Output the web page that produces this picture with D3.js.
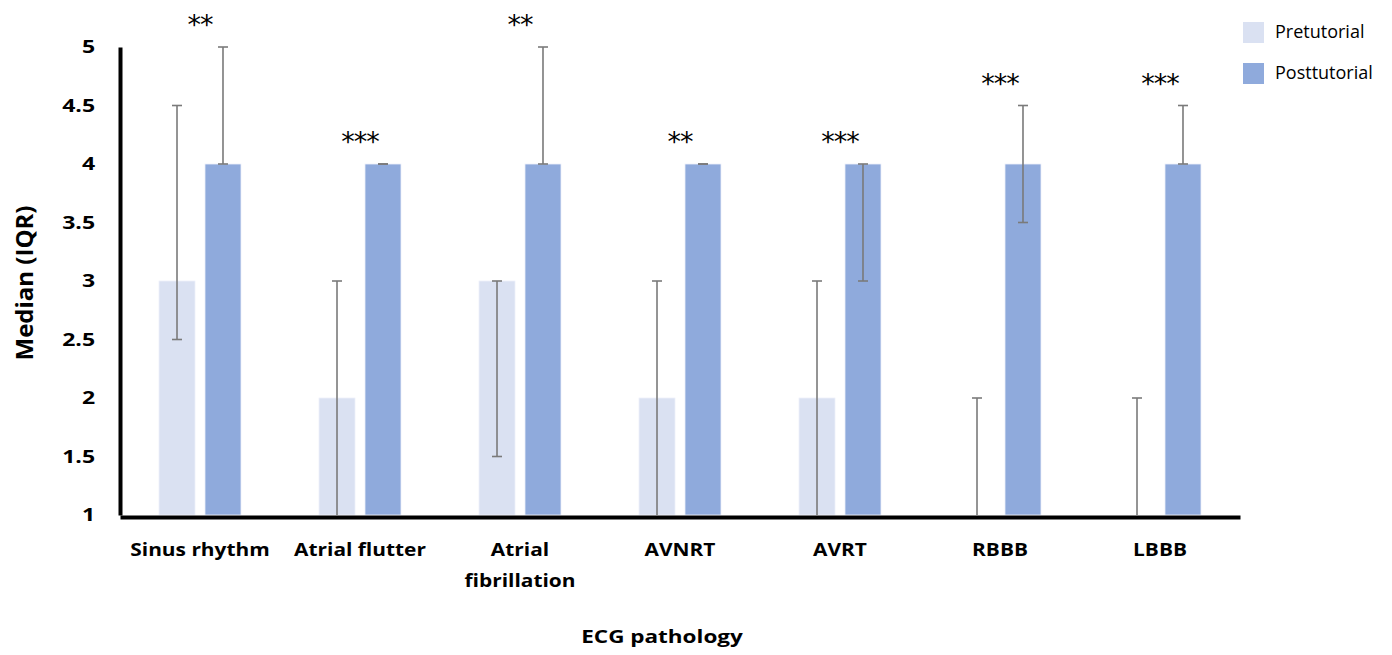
<!DOCTYPE html>
<html>
<head>
<meta charset="utf-8">
<script src="https://cdn.jsdelivr.net/npm/d3@7"></script>
<style>
  body { margin: 0; background: #fff; }
  svg { display: block; font-family: "Open Sans", Lato, sans-serif; }
</style>
</head>
<body>
<svg id="chart"></svg>
<script>
// categories and values
const categories = ['Sinus rhythm', 'Atrial flutter', 'Atrial fibrillation', 'AVNRT', 'AVRT', 'RBBB', 'LBBB'];
const seriesNames = ['Pretutorial', 'Posttutorial'];
const preMedian = [3, 2, 3, 2, 2, 1, 1];
const preLow    = [2.5, 1, 1.5, 1, 1, 1, 1];
const preHigh   = [4.5, 3, 3, 3, 3, 2, 2];
const postMedian = [4, 4, 4, 4, 4, 4, 4];
const postLow    = [4, 4, 4, 4, 3, 3.5, 4];
const postHigh   = [5, 4, 5, 4, 4, 4.5, 4.5];
const significance = ['**', '***', '**', '**', '***', '***', '***'];
const yTicks = [1, 1.5, 2, 2.5, 3, 3.5, 4, 4.5, 5];

const colors = { Pretutorial: '#dae1f2', Posttutorial: '#8faadc' };

function createGroupedBarChart() {
    const width = 1392;
    const height = 655;

    const svg = d3.select('#chart')
                  .attr('width', width)
                  .attr('height', height);

    const x0 = d3.scaleBand()
                 .domain(categories)
                 .range([120, 1240]);

    const x1 = d3.scaleBand()
                 .domain(seriesNames)
                 .range([39, 121])
                 .paddingInner(0.217);

    const yScale = d3.scaleLinear()
                     .domain([1, 5])
                     .range([515, 47]);

    const rows = categories.map((c, i) => ({
        cat: c,
        sig: significance[i],
        values: [
            { key: 'Pretutorial', median: preMedian[i], low: preLow[i], high: preHigh[i] },
            { key: 'Posttutorial', median: postMedian[i], low: postLow[i], high: postHigh[i] }
        ]
    }));

    const groups = svg.selectAll('g.group')
                      .data(rows)
                      .enter()
                      .append('g')
                      .attr('class', 'group')
                      .attr('transform', d => `translate(${x0(d.cat)},0)`);

    // bars
    groups.selectAll('rect')
          .data(d => d.values)
          .enter()
          .append('rect')
          .attr('x', d => x1(d.key))
          .attr('y', d => yScale(d.median))
          .attr('width', x1.bandwidth())
          .attr('height', d => yScale(1) - yScale(d.median))
          .attr('fill', d => colors[d.key])
          .attr('stroke', '#eef1fa')
          .attr('stroke-width', 0.8);

    // error bars (IQR)
    const cap = 5;
    const err = groups.selectAll('g.err')
                      .data(d => d.values)
                      .enter()
                      .append('g')
                      .attr('class', 'err')
                      .attr('stroke', '#7a7a7a')
                      .attr('stroke-width', 1.6);

    err.append('line')
       .attr('x1', d => x1(d.key) + x1.bandwidth() / 2)
       .attr('x2', d => x1(d.key) + x1.bandwidth() / 2)
       .attr('y1', d => yScale(d.low))
       .attr('y2', d => yScale(d.high));

    err.append('line')
       .attr('x1', d => x1(d.key) + x1.bandwidth() / 2 - cap)
       .attr('x2', d => x1(d.key) + x1.bandwidth() / 2 + cap)
       .attr('y1', d => yScale(d.high))
       .attr('y2', d => yScale(d.high));

    err.filter(d => d.low > 1)
       .append('line')
       .attr('x1', d => x1(d.key) + x1.bandwidth() / 2 - cap)
       .attr('x2', d => x1(d.key) + x1.bandwidth() / 2 + cap)
       .attr('y1', d => yScale(d.low))
       .attr('y2', d => yScale(d.low));

    // significance stars
    groups.append('text')
          .attr('x', x0.bandwidth() / 2)
          .attr('y', d => yScale(d3.max(d.values, v => v.high)) - 13)
          .attr('text-anchor', 'middle')
          .style('font-family', '"DejaVu Sans", sans-serif')
          .style('font-size', '27px')
          .style('letter-spacing', '-1px')
          .style('fill', '#000')
          .text(d => d.sig);

    // Y axis (labels are drawn a little wide, like the original)
    const yAxis = svg.append('g')
       .attr('transform', 'translate(120,0)')
       .call(d3.axisLeft(yScale)
           .tickValues(yTicks)
           .tickSize(0)
           .tickSizeOuter(0)
           .tickPadding(19.5)
           .tickFormat(d => d));
    yAxis.select('.domain').attr('stroke', '#000').attr('stroke-width', 4);
    yAxis.selectAll('text')
         .attr('transform', 'scale(1.28,1)')
         .style('font-family', '"Open Sans", sans-serif')
         .style('font-weight', 'bold')
         .style('font-size', '18px')
         .style('fill', '#000');

    // X axis
    const xAxis = svg.append('g')
       .attr('transform', 'translate(0,517)')
       .call(d3.axisBottom(x0).tickSize(0).tickSizeOuter(0).tickPadding(26));
    xAxis.select('.domain').attr('stroke', '#000').attr('stroke-width', 4);
    xAxis.selectAll('text')
         .attr('transform', 'scale(1.16,1)')
         .style('font-family', '"Open Sans", sans-serif')
         .style('font-weight', 'bold')
         .style('font-size', '18px')
         .style('fill', '#000')
         .call(wrap, 140);

    // axis titles
    svg.append('text')
       .attr('transform', 'rotate(-90)')
       .attr('x', -283)
       .attr('y', 33)
       .attr('text-anchor', 'middle')
       .style('font-weight', 'bold')
       .style('font-size', '24px')
       .text('Median (IQR)');

    svg.append('text')
       .attr('transform', 'translate(662,643) scale(1.25,1)')
       .attr('text-anchor', 'middle')
       .style('font-weight', 'bold')
       .style('font-size', '18px')
       .text('ECG pathology');

    // legend
    const legend = svg.selectAll('g.legend')
                      .data(seriesNames)
                      .enter()
                      .append('g')
                      .attr('class', 'legend')
                      .attr('transform', (d, i) => `translate(1243,${22 + i * 41})`);

    legend.append('rect')
          .attr('width', 21)
          .attr('height', 21)
          .attr('fill', d => colors[d]);

    legend.append('text')
          .attr('x', 32)
          .attr('y', 10)
          .attr('dy', '0.35em')
          .style('font-size', '18px')
          .style('fill', '#000')
          .text(d => d);
}

// wrap long tick labels onto two lines
function wrap(texts, maxWidth) {
    texts.each(function() {
        const text = d3.select(this);
        const words = text.text().split(' ');
        const y = text.attr('y');
        const dy = parseFloat(text.attr('dy'));
        text.text(null);
        let line = [];
        let lineNo = 0;
        let tspan = text.append('tspan').attr('x', 0).attr('y', y).attr('dy', dy + 'em');
        words.forEach(w => {
            line.push(w);
            tspan.text(line.join(' '));
            if (tspan.node().getComputedTextLength() > maxWidth && line.length > 1) {
                line.pop();
                tspan.text(line.join(' '));
                line = [w];
                lineNo++;
                tspan = text.append('tspan')
                            .attr('x', 0)
                            .attr('y', y)
                            .attr('dy', (lineNo * 1.72 + dy) + 'em')
                            .text(w);
            }
        });
    });
}

document.addEventListener('DOMContentLoaded', () => {
    createGroupedBarChart();
});
</script>
</body>
</html>
